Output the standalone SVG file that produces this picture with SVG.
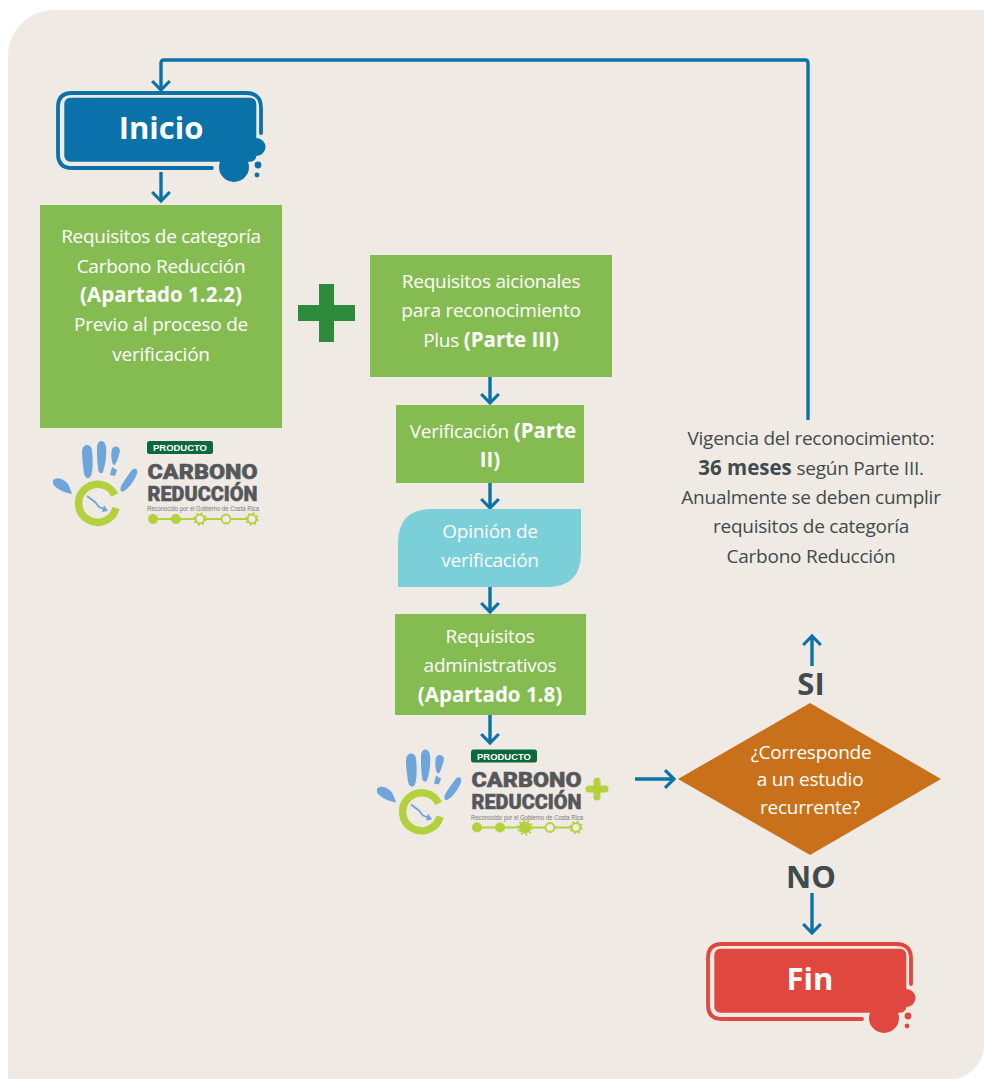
<svg xmlns="http://www.w3.org/2000/svg" xmlns:xlink="http://www.w3.org/1999/xlink" width="984" height="1079" viewBox="0 0 984 1079">
<style>
text{font-family:"Open Sans","Noto Sans","Liberation Sans",sans-serif;text-anchor:middle}
.w{fill:#fff;font-size:19px;letter-spacing:-.26px}
.d{fill:#414a4c;font-size:19px;letter-spacing:-.25px}
.b{font-weight:700;font-size:20.5px;letter-spacing:0}
.big{font-size:31px;font-weight:700;fill:#fff}
.lab{font-size:31px;font-weight:700;fill:#414a4c}
.g{fill:#85bc52}
.c{fill:none;stroke:#0a72a8;stroke-width:3.4;stroke-linejoin:round}
.lg{fill:#6ea6dc}
.lm{stroke:#b2d13c;stroke-width:2;fill:none}
.lt{font-family:"Roboto","Liberation Sans",sans-serif;font-weight:900;fill:#55575a;stroke:#55575a;stroke-width:.5;text-anchor:start}
</style>
<defs>
<marker id="a" viewBox="0 0 20 20" refX="17" refY="10" markerWidth="20" markerHeight="20" markerUnits="userSpaceOnUse" orient="auto"><path d="M8 1.2L17 10L8 18.800" fill="none" stroke="#0a72a8" stroke-width="3.2"/></marker>
<g id="term">
<path d="M206 44V19Q206 4 191 4H17Q3 4 3 18V65Q3 79 17 79H157" fill="none" stroke-width="3.8" stroke-linecap="round"/>
<rect x="9.300" y="8.700" width="192" height="64" rx="6"/>
<circle cx="179" cy="78" r="15"/><circle cx="201.500" cy="58" r="9"/><circle cx="203" cy="76" r="3.4"/><circle cx="202" cy="86" r="2.4"/>
</g>
<g id="logo">
<g class="lg">
<path d="M82 452C82 443 91 443 92 450C93 459 93 470 91 476C88 480 85 478 84 473C83 466 82 459 82 452Z"/>
<path d="M97 448C97 439 105 439 106 447C107 456 105 466 103 472C100 475 98 472 98 468C97 461 97 454 97 448Z"/>
<path d="M112 449C114 445 120 446 120 451C119 456 117 461 115 465C113 465 112 463 112 461C111 457 111 453 112 449Z"/>
<path d="M112 467L117 470L115 476L110 475Z"/>
<path d="M132 470C136 467 138 470 137 474C134 481 129 488 124 491C120 493 120 489 121 486C124 481 128 475 132 470Z"/>
<path d="M53 480C58 476 64 479 68 484C70 488 71 491 72 494C65 493 56 489 53 484Z"/>
</g>
<path d="M114.700 495A19 19 0 1 0 116 508" fill="none" stroke="#b2d13c" stroke-width="7.500"/>
<path d="M87 496L95 502L99 507L107 510" fill="none" stroke="#6ea6dc" stroke-width="1.800"/><path d="M104 505L108 511L102 512Z" fill="#6ea6dc"/>
<rect x="147" y="441" width="66" height="13" rx="2.500" fill="#0a6a3c"/>
<text x="180" y="451" style="font-family:'Liberation Sans',sans-serif;font-size:9.500px;font-weight:700;fill:#fff" textLength="54" lengthAdjust="spacingAndGlyphs">PRODUCTO</text>
<text class="lt" x="147.500" y="478.500" font-size="21" textLength="110" lengthAdjust="spacingAndGlyphs">CARBONO</text>
<text class="lt" x="147.500" y="500.500" font-size="21" textLength="110" lengthAdjust="spacingAndGlyphs">REDUCCIÓN</text>
<text x="147" y="511" style="font-family:'Liberation Sans',sans-serif;font-size:6.500px;fill:#77797c;text-anchor:start" textLength="112" lengthAdjust="spacingAndGlyphs">Reconocido por el Gobierno de Costa Rica</text>
<path class="lm" d="M153 519H252"/>
<circle cx="153" cy="519" r="5" fill="#b2d13c"/><circle cx="176" cy="519" r="5" fill="#b2d13c"/>
<circle cx="226" cy="519" r="4.500" fill="#efeae3" stroke="#b2d13c" stroke-width="1.800"/>
<circle cx="252" cy="519" r="4.300" fill="#efeae3" stroke="#b2d13c" stroke-width="1.800"/><circle cx="252" cy="519" r="5.800" fill="none" stroke="#b2d13c" stroke-width="1.800" stroke-dasharray="2 2.550"/>
</g>
</defs>
<rect width="984" height="1079" fill="#fff"/>
<path id="panel" d="M54 10H984V1045A34 34 0 0 1 950 1079H8V56A46 46 0 0 1 54 10Z" fill="#efeae3"/>

<g id="connectors">
<path class="c" marker-end="url(#a)" d="M808 420V63Q808 60 805 60H164Q161 60 161 63V90"/>
<path class="c" marker-end="url(#a)" d="M161 172V201"/>
<path class="c" marker-end="url(#a)" d="M490 377V403"/>
<path class="c" marker-end="url(#a)" d="M490 483V508"/>
<path class="c" marker-end="url(#a)" d="M490 587V612"/>
<path class="c" marker-end="url(#a)" d="M490 715V743"/>
<path class="c" marker-end="url(#a)" d="M635 779H674"/>
<path class="c" marker-end="url(#a)" d="M812 666V636"/>
<path class="c" marker-end="url(#a)" d="M812 893V933"/>
</g>

<g id="inicio" transform="translate(55 89)" fill="#0a72a8" stroke="#0a72a8"><use xlink:href="#term" href="#term" stroke-width="0"/></g>
<text class="big" x="161" y="139">Inicio</text>

<g id="req-categoria"><rect class="g" x="40" y="205" width="242" height="223"/>
<text class="w" x="161" y="243">Requisitos de categoría</text>
<text class="w" x="161" y="273">Carbono Reducción</text>
<text class="w b" x="161" y="302">(Apartado 1.2.2)</text>
<text class="w" x="161" y="331">Previo al proceso de</text>
<text class="w" x="161" y="361">verificación</text></g>

<g id="plus"><path d="M319 284H334V305H355V321H334V342H319V321H298V305H319Z" fill="#2e8b3c"/></g>

<g id="req-plus"><rect class="g" x="370" y="255" width="242" height="122"/>
<text class="w" x="491" y="288">Requisitos aicionales</text>
<text class="w" x="491" y="317">para reconocimiento</text>
<text class="w" x="491" y="347">Plus <tspan class="b">(Parte III)</tspan></text></g>

<g id="verificacion"><rect class="g" x="396" y="405" width="188" height="78"/>
<text class="w" x="493" y="438">Verificación <tspan class="b">(Parte</tspan></text>
<text class="w b" x="490" y="467">II)</text></g>

<g id="opinion"><path d="M432 509H581V553Q581 587 547 587H398V543Q398 509 432 509Z" fill="#7bcfd9"/>
<text class="w" x="490" y="538">Opinión de</text>
<text class="w" x="490" y="567">verificación</text></g>

<g id="req-admin"><rect class="g" x="395" y="614" width="191" height="101"/>
<text class="w" x="490" y="643">Requisitos</text>
<text class="w" x="490" y="672">administrativos</text>
<text class="w b" x="490" y="702">(Apartado 1.8)</text></g>

<g id="logo-producto"><use xlink:href="#logo" href="#logo"/></g>
<g id="logo-plus"><g transform="translate(324 308.500)"><use xlink:href="#logo" href="#logo"/></g>
<circle cx="525" cy="827.500" r="6" fill="#b2d13c"/><circle cx="525" cy="827.500" r="7" fill="none" stroke="#b2d13c" stroke-width="1.800" stroke-dasharray="2 2.400"/>
<path d="M597 781V797M589 789H605" stroke="#b2d13c" stroke-width="7" stroke-linecap="round"/></g>
<g id="gear1"><circle cx="200" cy="519" r="4.300" fill="#efeae3" stroke="#b2d13c" stroke-width="1.800"/><circle cx="200" cy="519" r="5.800" fill="none" stroke="#b2d13c" stroke-width="1.800" stroke-dasharray="2 2.550"/></g>

<g id="vigencia">
<text class="d" x="811" y="445">Vigencia del reconocimiento:</text>
<text class="d" x="811" y="475"><tspan class="b">36 meses</tspan> según Parte III.</text>
<text class="d" x="811" y="504">Anualmente se deben cumplir</text>
<text class="d" x="811" y="533">requisitos de categoría</text>
<text class="d" x="811" y="563">Carbono Reducción</text></g>

<text class="lab" x="811" y="695">SI</text>
<g id="decision"><path d="M678 779L810 703L941 779L810 855Z" fill="#c8711a"/>
<text class="w" x="811" y="759">¿Corresponde</text>
<text class="w" x="810" y="786">a un estudio</text>
<text class="w" x="810" y="814">recurrente?</text></g>
<text class="lab" x="811" y="888">NO</text>

<g id="fin" transform="translate(705 940)" fill="#e0483f" stroke="#e0483f"><use xlink:href="#term" href="#term" stroke-width="0"/></g>
<text class="big" x="810" y="990">Fin</text>
</svg>
